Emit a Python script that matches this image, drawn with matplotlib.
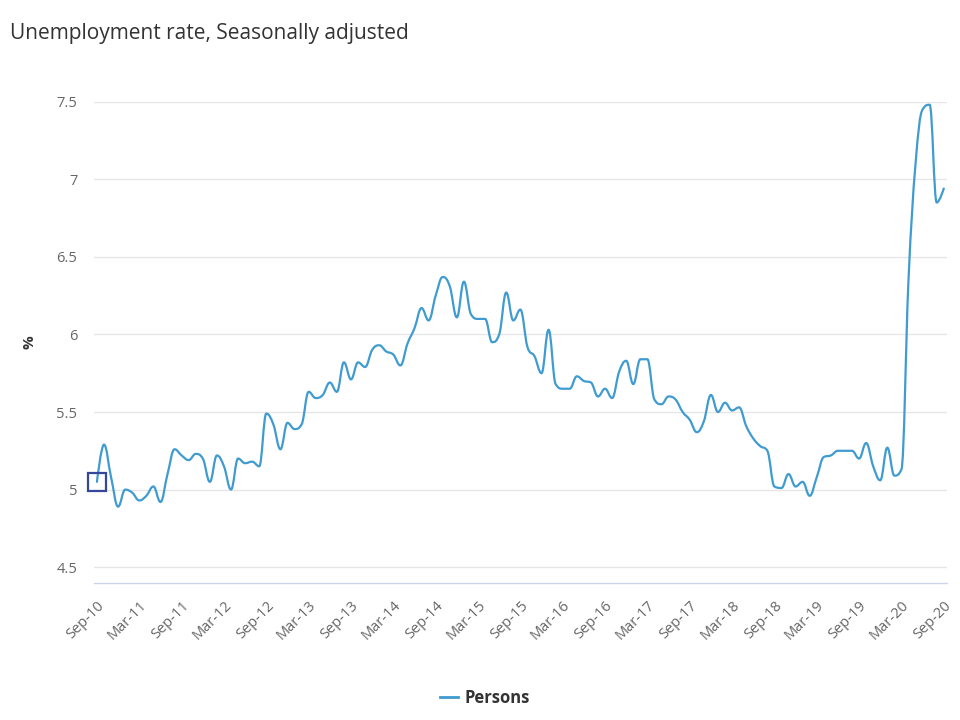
import matplotlib
matplotlib.use("Agg")
import matplotlib.pyplot as plt
from matplotlib.path import Path
from matplotlib.patches import PathPatch
from matplotlib.lines import Line2D

# -----------------------------
# Data: monthly, Sep-10 .. Sep-20
# -----------------------------
rate = [
    5.05, 5.29, 5.08, 4.89, 5.00, 4.98, 4.93, 4.96, 5.02, 4.92,
    5.10, 5.26, 5.22, 5.19, 5.23, 5.20, 5.05, 5.22, 5.15, 5.00,
    5.20, 5.17, 5.18, 5.15, 5.49, 5.42, 5.26, 5.43, 5.39, 5.42,
    5.63, 5.59, 5.61, 5.69, 5.63, 5.82, 5.71, 5.82, 5.79, 5.90,
    5.93, 5.89, 5.87, 5.80, 5.94, 6.04, 6.17, 6.09, 6.25, 6.37,
    6.31, 6.11, 6.34, 6.13, 6.10, 6.10, 5.95, 6.00, 6.27, 6.09,
    6.16, 5.92, 5.86, 5.75, 6.03, 5.68, 5.65, 5.65, 5.73, 5.70,
    5.69, 5.60, 5.65, 5.59, 5.76, 5.83, 5.68, 5.84, 5.84, 5.58,
    5.55, 5.60, 5.58, 5.50, 5.45, 5.37, 5.44, 5.61, 5.50, 5.56,
    5.51, 5.53, 5.41, 5.33, 5.28, 5.25, 5.02, 5.01, 5.10, 5.02,
    5.05, 4.96, 5.08, 5.21, 5.22, 5.25, 5.25, 5.25, 5.20, 5.30,
    5.15, 5.06, 5.27, 5.09, 5.13, 6.35, 7.10, 7.45, 7.48, 6.85,
    6.94,
]
months = list(range(len(rate)))

tick_labels = [
    "Sep-10", "Mar-11", "Sep-11", "Mar-12", "Sep-12", "Mar-13", "Sep-13",
    "Mar-14", "Sep-14", "Mar-15", "Sep-15", "Mar-16", "Sep-16", "Mar-17",
    "Sep-17", "Mar-18", "Sep-18", "Mar-19", "Sep-19", "Mar-20", "Sep-20",
]
tick_pos = months[::6]
y_ticks = [4.5, 5, 5.5, 6, 6.5, 7, 7.5]

LINE = "#3f9bd0"
TXT = "#333333"
LBL = "#666666"


def spline(xs, ys, smoothing=1.5):
    # Highcharts-style spline: bezier control points per point
    n = len(xs)
    denom = smoothing + 1
    lc = [(x, y) for x, y in zip(xs, ys)]
    rc = [(x, y) for x, y in zip(xs, ys)]
    for i in range(1, n - 1):
        x, y = xs[i], ys[i]
        lx, ly = xs[i - 1], ys[i - 1]
        nx, ny = xs[i + 1], ys[i + 1]
        lcx = (smoothing * x + lx) / denom
        lcy = (smoothing * y + ly) / denom
        rcx = (smoothing * x + nx) / denom
        rcy = (smoothing * y + ny) / denom
        corr = (rcy - lcy) * (rcx - x) / (rcx - lcx) + y - rcy
        lcy += corr
        rcy += corr
        if lcy > ly and lcy > y:
            lcy = max(ly, y)
            rcy = 2 * y - lcy
        elif lcy < ly and lcy < y:
            lcy = min(ly, y)
            rcy = 2 * y - lcy
        if rcy > ny and rcy > y:
            rcy = max(ny, y)
            lcy = 2 * y - rcy
        elif rcy < ny and rcy < y:
            rcy = min(ny, y)
            lcy = 2 * y - rcy
        lc[i] = (lcx, lcy)
        rc[i] = (rcx, rcy)
    verts = [(xs[0], ys[0])]
    codes = [Path.MOVETO]
    for i in range(1, n):
        verts += [rc[i - 1], lc[i], (xs[i], ys[i])]
        codes += [Path.CURVE4] * 3
    return Path(verts, codes)


plt.rcParams["font.family"] = ["Open Sans", "DejaVu Sans"]

fig = plt.figure(figsize=(9.6, 7.2), dpi=100)
ax = fig.add_axes([0.0979, 0.1907, 0.8885, 0.6681])

ax.add_patch(PathPatch(spline(months, rate), facecolor="none",
                       edgecolor=LINE, lw=1.6, capstyle="round",
                       joinstyle="round", zorder=3))
# highlighted first point
ax.plot(months[0], rate[0], marker="s", ms=13.5, mfc="none",
        mec="#35479a", mew=1.6, zorder=4, clip_on=False)

ax.set_xlim(-0.42, 120.45)
ax.set_ylim(4.4, 7.5)

ax.set_yticks(y_ticks)
ax.set_yticklabels(["4.5", "5", "5.5", "6", "6.5", "7", "7.5"])
ax.set_xticks(tick_pos)
ax.set_xticklabels(tick_labels, rotation=45, ha="right", va="top",
                   rotation_mode="anchor")
ax.tick_params(axis="both", length=0, labelsize=10.5, labelcolor=LBL)
ax.tick_params(axis="y", pad=12)
ax.tick_params(axis="x", pad=11)

ax.grid(axis="y", color="#e6e6e6", lw=1)
ax.set_axisbelow(True)
for s in ["top", "right", "left"]:
    ax.spines[s].set_visible(False)
ax.spines["bottom"].set_color("#ccd6eb")
ax.spines["bottom"].set_linewidth(1)

ax.set_ylabel("%", fontsize=11, fontweight="bold", color=TXT, labelpad=14)

fig.text(10 / 960, 1 - 39 / 720, "Unemployment rate, Seasonally adjusted",
         fontsize=15, color=TXT, ha="left", va="baseline")

handle = Line2D([], [], color=LINE, lw=2)
leg = fig.legend([handle], ["Persons"], loc="center",
                 bbox_to_anchor=(485 / 960, 1 - 698 / 720), frameon=False,
                 handlelength=1.1, handletextpad=0.4,
                 prop={"size": 12, "weight": "bold"})
for t in leg.get_texts():
    t.set_color(TXT)

fig.savefig("out.png", dpi=100)
